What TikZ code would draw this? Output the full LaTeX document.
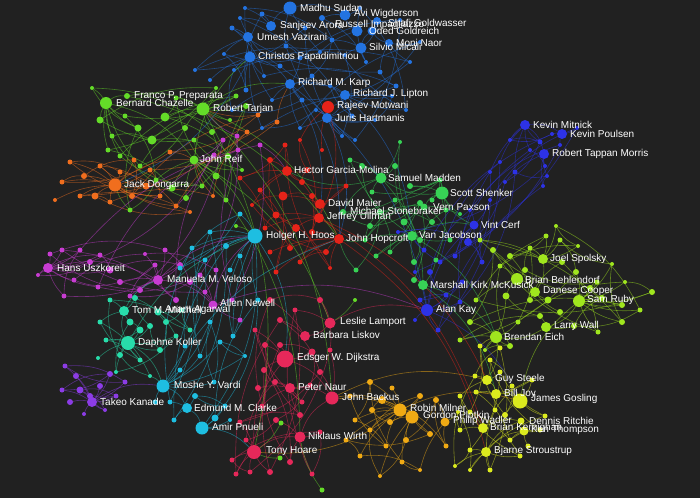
\documentclass[tikz,border=0pt]{standalone}
\usepackage{fontspec}
\setmainfont{Liberation Sans}
\definecolor{bgc}{RGB}{33,33,33}
\definecolor{cblue}{RGB}{35,115,225}
\definecolor{cred}{RGB}{230,35,25}
\definecolor{cgreen}{RGB}{100,220,40}
\definecolor{csys}{RGB}{55,210,85}
\definecolor{corange}{RGB}{240,110,30}
\definecolor{cmag}{RGB}{200,60,210}
\definecolor{cteal}{RGB}{40,220,170}
\definecolor{ccyan}{RGB}{30,190,225}
\definecolor{ccrim}{RGB}{230,40,90}
\definecolor{cgold}{RGB}{240,170,20}
\definecolor{cyel}{RGB}{220,235,30}
\definecolor{clime}{RGB}{160,230,30}
\definecolor{cviolet}{RGB}{45,50,230}
\definecolor{cpurple}{RGB}{140,60,230}
\pgfdeclarelayer{bgl}\pgfdeclarelayer{edges}\pgfdeclarelayer{labels}
\pgfsetlayers{bgl,edges,main,labels}
\tikzset{
  dot/.style={circle,inner sep=0pt,draw=none},
  lbl/.style={anchor=west,inner sep=0pt,text=white,font=\fontsize{10}{12}\selectfont},
  edge/.style={draw=#1,draw opacity=0.5,line width=0.6pt}
}
\newcommand\hubdot[8]{\node[dot,fill=#5,minimum size=#4pt] (#1) at (#2,#3) {};}
\newcommand\hublabel[8]{\node[lbl] (#1t) at (#6,#7) {#8};}
\newcommand\clusterdots[3]{%
  \foreach \x/\y/\s/\h [count=\i] in #3 {%
    \node[dot,fill=#2,minimum size=\s pt] (#1\i) at (\x,\y) {};}}
\newcommand\clusterlinks[3]{%
  \foreach \x/\y/\s/\h [count=\i] in #3 {%
    \draw[edge=#2] (#1\i) to[bend left=12] (\h);}}
\newcommand\webedges[3]{%
  \foreach \i in {1,...,#2}{%
    \pgfmathtruncatemacro\j{mod(\i*5+3,#2)+1}%
    \ifnum\j=\i\else\draw[edge=#3] (#1\i) to[bend right=18] (#1\j);\fi}}
\newcommand\allhubs{%
\hub{sudan}{290}{8}{13}{cblue}{300}{8}{Madhu Sudan}
\hub{wigderson}{345}{15}{11}{cblue}{354}{14}{Avi Wigderson}
\hub{arora}{271}{26}{10}{cblue}{280}{26}{Sanjeev Arora}
\hub{impagliazzo}{357}{31}{11}{cblue}{335}{25}{Russell Impagliazzo}
\hub{goldwasser}{377}{21}{8}{cblue}{388}{23}{Shafi Goldwasser}
\hub{goldreich}{372}{31}{9}{cblue}{369}{31}{Oded Goldreich}
\hub{vazirani}{248}{37}{10}{cblue}{257}{37}{Umesh Vazirani}
\hub{micali}{361}{48}{11}{cblue}{369}{47}{Silvio Micali}
\hub{naor}{389}{43}{8}{cblue}{396}{43}{Moni Naor}
\hub{papadimitriou}{250}{57}{11}{cblue}{258}{57}{Christos Papadimitriou}
\hub{karp}{290}{84}{10}{cblue}{298}{83}{Richard M. Karp}
\hub{lipton}{345}{95}{10}{cblue}{353}{94}{Richard J. Lipton}
\hub{motwani}{328}{107}{12}{cred}{337}{106}{Rajeev Motwani}
\hub{hartmanis}{327}{118}{10}{cblue}{335}{118}{Juris Hartmanis}
\hub{preparata}{127}{96}{6}{cgreen}{134}{96}{Franco P. Preparata}
\hub{chazelle}{106}{103}{12}{cgreen}{116}{103}{Bernard Chazelle}
\hub{tarjan}{203}{109}{13}{cgreen}{213}{109}{Robert Tarjan}
\hub{reif}{194}{160}{9}{cgreen}{200}{159}{John Reif}
\hub{dongarra}{115}{185}{13}{corange}{124}{185}{Jack Dongarra}
\hub{garcia}{287}{171}{10}{cred}{294}{170}{Hector Garcia-Molina}
\hub{maier}{320}{204}{10}{cred}{328}{203}{David Maier}
\hub{ullman}{319}{218}{10}{cred}{327}{217}{Jeffrey Ullman}
\hub{hopcroft}{339}{239}{10}{cred}{346}{239}{John Hopcroft}
\hub{madden}{381}{178}{11}{csys}{388}{178}{Samuel Madden}
\hub{shenker}{442}{193}{13}{csys}{450}{193}{Scott Shenker}
\hub{stonebraker}{343}{212}{6}{csys}{350}{211}{Michael Stonebraker}
\hub{paxson}{424}{207}{7}{csys}{433}{207}{Vern Paxson}
\hub{jacobson}{412}{236}{10}{csys}{419}{235}{Van Jacobson}
\hub{mckusick}{423}{285}{10}{csys}{430}{285}{Marshall Kirk McKusick}
\hub{cerf}{474}{225}{9}{cviolet}{481}{225}{Vint Cerf}
\hub{mitnick}{525}{125}{10}{cviolet}{533}{125}{Kevin Mitnick}
\hub{poulsen}{562}{134}{10}{cviolet}{570}{134}{Kevin Poulsen}
\hub{morris}{544}{154}{10}{cviolet}{552}{154}{Robert Tappan Morris}
\hub{kay}{427}{310}{12}{cviolet}{436}{310}{Alan Kay}
\hub{spolsky}{543}{259}{10}{clime}{550}{259}{Joel Spolsky}
\hub{behlendorf}{517}{279}{12}{clime}{525}{280}{Brian Behlendorf}
\hub{cooper}{535}{292}{10}{clime}{543}{291}{Danese Cooper}
\hub{ruby}{579}{301}{12}{clime}{587}{300}{Sam Ruby}
\hub{wall}{546}{327}{10}{clime}{554}{326}{Larry Wall}
\hub{eich}{496}{337}{12}{clime}{504}{337}{Brendan Eich}
\hub{uszkoreit}{48}{268}{10}{cmag}{57}{268}{Hans Uszkoreit}
\hub{veloso}{158}{280}{10}{cmag}{167}{279}{Manuela M. Veloso}
\hub{newell}{213}{305}{9}{cmag}{220}{303}{Allen Newell}
\hub{mitchell}{124}{311}{10}{cteal}{132}{310}{Tom M. Mitchell}
\hub{agarwal}{158}{312}{7}{cteal}{165}{310}{Anant Agarwal}
\hub{koller}{128}{343}{14}{cteal}{138}{343}{Daphne Koller}
\hub{hoos}{255}{236}{15}{ccyan}{266}{236}{Holger H. Hoos}
\hub{vardi}{163}{386}{13}{ccyan}{174}{385}{Moshe Y. Vardi}
\hub{clarke}{187}{408}{10}{ccyan}{194}{408}{Edmund M. Clarke}
\hub{pnueli}{202}{428}{13}{ccyan}{212}{427}{Amir Pnueli}
\hub{kanade}{92}{402}{10}{cpurple}{100}{402}{Takeo Kanade}
\hub{lamport}{330}{323}{11}{ccrim}{340}{322}{Leslie Lamport}
\hub{liskov}{305}{336}{10}{ccrim}{313}{335}{Barbara Liskov}
\hub{dijkstra}{285}{359}{17}{ccrim}{297}{358}{Edsger W. Dijkstra}
\hub{naur}{290}{388}{10}{ccrim}{298}{387}{Peter Naur}
\hub{backus}{332}{398}{13}{ccrim}{342}{397}{John Backus}
\hub{wirth}{300}{437}{11}{ccrim}{308}{436}{Niklaus Wirth}
\hub{hoare}{254}{452}{14}{ccrim}{266}{451}{Tony Hoare}
\hub{milner}{400}{410}{13}{cgold}{410}{408}{Robin Milner}
\hub{plotkin}{412}{417}{13}{cgold}{423}{415}{Gordon Plotkin}
\hub{wadler}{445}{422}{9}{cgold}{453}{421}{Philip Wadler}
\hub{steele}{487}{380}{10}{cyel}{495}{379}{Guy Steele}
\hub{joy}{496}{394}{10}{cyel}{504}{394}{Bill Joy}
\hub{gosling}{520}{401}{15}{cyel}{531}{399}{James Gosling}
\hub{ritchie}{521}{421}{7}{cyel}{529}{421}{Dennis Ritchie}
\hub{kernighan}{483}{428}{10}{cyel}{490}{428}{Brian Kernighan}
\hub{thompson}{524}{431}{9}{cyel}{531}{430}{Ken Thompson}
\hub{stroustrup}{486}{452}{10}{cyel}{494}{451}{Bjarne Stroustrup}}
\def\listb{232/28/5/vazirani, 240/18/4/arora, 262/14/5/arora, 305/28/5/sudan, 322/18/6/wigderson, 332/40/5/micali, 345/55/4/micali, 366/62/4/micali, 380/72/5/naor, 396/86/5/lipton, 410/62/4/naor, 420/42/4/naor, 300/58/5/karp, 280/66/5/papadimitriou, 264/76/4/papadimitriou, 312/76/5/karp, 302/100/5/karp, 272/100/4/karp, 246/90/5/papadimitriou, 234/70/4/papadimitriou, 224/54/4/vazirani, 316/110/4/hartmanis, 352/116/5/lipton, 342/136/4/hartmanis, 300/128/4/karp, 232/110/4/karp, 262/128/4/papadimitriou, 392/96/4/lipton, 406/110/4/lipton, 286/46/5/sudan, 320/52/4/impagliazzo, 360/8/4/wigderson, 400/20/4/goldwasser, 245/8/4/arora, 330/86/4/lipton, 375/120/4/hartmanis, 355/140/4/hartmanis, 210/80/4/papadimitriou, 195/70/4/vazirani}
\def\listr{270/160/6/garcia, 302/182/6/garcia, 283/196/9/maier, 307/170/6/garcia, 260/190/5/garcia, 276/215/7/ullman, 296/228/8/ullman, 312/232/6/hopcroft, 290/248/6/hopcroft, 270/252/5/hopcroft, 326/252/6/hopcroft, 265/228/5/ullman, 312/196/6/maier, 346/186/5/maier, 300/262/5/hopcroft, 285/145/5/garcia, 276/272/5/hopcroft, 330/268/4/hopcroft, 252/205/4/garcia, 240/178/5/garcia, 322/150/4/motwani, 300/140/4/motwani}
\def\listg{100/120/7/chazelle, 112/136/5/chazelle, 125/116/5/chazelle, 138/128/7/chazelle, 152/140/9/tarjan, 165/117/9/tarjan, 176/98/5/tarjan, 185/128/6/tarjan, 194/140/5/reif, 212/132/6/tarjan, 228/156/6/reif, 216/176/7/reif, 202/186/5/reif, 186/198/6/reif, 172/188/7/reif, 156/180/5/reif, 140/166/5/chazelle, 120/156/5/chazelle, 236/96/5/tarjan, 246/106/6/tarjan, 216/88/4/tarjan, 242/170/4/reif, 226/200/5/reif, 130/210/5/dongarra, 108/150/5/chazelle, 230/120/4/tarjan, 92/88/4/chazelle}
\def\listo{70/162/5/dongarra, 84/176/6/dongarra, 95/196/7/dongarra, 110/202/5/dongarra, 132/196/6/dongarra, 146/186/7/dongarra, 150/170/5/dongarra, 134/160/5/dongarra, 160/196/5/dongarra, 176/206/5/dongarra, 170/152/5/reif, 120/172/5/dongarra, 100/166/5/dongarra, 62/182/5/dongarra, 80/196/5/dongarra, 247/132/5/tarjan, 258/115/5/tarjan, 277/122/5/karp, 190/212/4/dongarra, 55/200/4/dongarra, 213/196/4/reif}
\def\lists{362/166/6/madden, 395/166/6/madden, 410/186/6/shenker, 420/203/6/paxson, 404/222/7/jacobson, 432/222/6/paxson, 446/210/5/shenker, 395/200/5/stonebraker, 380/212/6/stonebraker, 370/226/6/stonebraker, 390/252/5/jacobson, 414/262/6/jacobson, 436/260/5/mckusick, 420/240/6/jacobson, 450/240/5/jacobson, 460/214/4/shenker, 400/142/4/madden, 372/192/5/madden, 440/180/5/shenker, 376/256/5/jacobson, 356/270/5/hopcroft, 350/160/5/madden, 432/200/5/shenker, 365/240/5/hopcroft, 414/280/6/mckusick}
\def\listv{468/242/8/cerf, 455/256/5/cerf, 440/262/5/jacobson, 462/282/5/kay, 446/295/5/kay, 430/272/6/kay, 424/250/5/jacobson, 460/302/5/kay, 398/232/4/jacobson, 415/272/4/kay, 482/262/5/cerf, 470/210/4/cerf, 490/200/4/cerf, 505/182/4/morris, 515/172/5/mitnick, 540/142/5/mitnick, 530/150/4/mitnick, 552/134/4/poulsen, 560/145/4/poulsen, 545/166/4/morris, 547/176/4/morris, 543/186/4/morris, 500/162/4/mitnick, 490/172/4/mitnick, 577/128/4/poulsen, 510/140/4/mitnick, 438/330/5/kay, 415/320/4/kay, 420/300/5/kay}
\def\listl{480/240/5/spolsky, 493/250/6/behlendorf, 500/266/5/behlendorf, 510/256/6/spolsky, 560/240/5/spolsky, 562/262/6/spolsky, 576/272/6/ruby, 590/288/6/ruby, 602/298/6/ruby, 622/305/6/ruby, 640/310/5/ruby, 652/292/6/ruby, 622/322/6/ruby, 598/332/5/ruby, 574/326/6/wall, 560/312/6/cooper, 540/316/6/wall, 518/322/5/eich, 510/346/6/eich, 470/322/6/eich, 460/340/5/eich, 476/300/5/behlendorf, 506/296/7/behlendorf, 546/236/5/spolsky, 556/226/4/spolsky, 530/248/5/spolsky, 578/246/4/spolsky, 597/282/5/ruby, 612/264/4/ruby, 625/282/4/ruby, 485/350/4/eich, 525/270/6/behlendorf, 548/300/7/cooper, 530/300/6/cooper}
\def\listm{50/254/5/uszkoreit, 62/250/5/uszkoreit, 80/250/5/uszkoreit, 90/262/6/uszkoreit, 100/255/5/uszkoreit, 110/270/7/uszkoreit, 120/282/6/veloso, 98/287/5/uszkoreit, 140/290/6/veloso, 155/265/5/veloso, 165/250/5/veloso, 180/265/6/veloso, 190/282/6/newell, 205/292/5/newell, 200/275/5/newell, 216/270/5/newell, 176/300/6/veloso, 74/280/5/uszkoreit, 64/296/5/uszkoreit, 223/140/5/reif, 237/136/5/tarjan, 238/150/5/reif, 260/145/5/garcia, 214/155/5/reif, 130/296/5/veloso, 145/254/4/veloso, 232/300/5/newell, 240/320/5/newell, 38/275/4/uszkoreit}
\def\listt{110/300/5/mitchell, 130/322/7/mitchell, 140/330/7/koller, 150/326/6/koller, 166/322/6/agarwal, 176/336/5/koller, 160/350/6/koller, 140/360/5/koller, 120/355/6/koller, 106/340/5/koller, 100/322/5/mitchell, 182/310/5/agarwal, 190/330/5/agarwal, 116/372/4/koller, 150/376/4/vardi, 98/358/4/koller, 135/298/6/mitchell}
\def\listc{210/232/5/hoos, 226/246/6/hoos, 240/256/5/hoos, 240/214/5/hoos, 230/270/5/hoos, 205/260/5/hoos, 210/322/5/vardi, 220/342/5/vardi, 200/356/5/vardi, 185/346/5/vardi, 180/370/5/vardi, 195/396/6/clarke, 215/418/7/pnueli, 174/420/5/clarke, 214/382/5/vardi, 225/406/5/pnueli, 155/402/5/vardi, 170/402/5/clarke, 233/336/5/hoos, 245/356/4/vardi, 258/300/5/hoos, 192/248/5/hoos, 230/420/4/pnueli, 180/268/5/hoos}
\def\listk{270/300/6/liskov, 280/320/6/liskov, 295/310/5/lamport, 312/352/7/dijkstra, 320/372/6/backus, 302/402/5/naur, 275/382/6/naur, 264/370/6/dijkstra, 262/406/5/naur, 276/420/6/wirth, 240/422/5/hoare, 246/440/5/hoare, 232/460/5/hoare, 236/474/5/hoare, 250/472/5/hoare, 270/472/6/hoare, 290/462/6/wirth, 320/432/5/wirth, 312/474/5/wirth, 265/345/6/dijkstra, 320/300/6/lamport, 255/330/5/dijkstra, 300/415/6/naur, 280/345/6/dijkstra, 330/350/5/backus, 258/388/6/naur, 310/385/5/naur}
\def\lista{350/396/5/backus, 370/382/6/milner, 382/400/8/milner, 390/422/6/plotkin, 420/396/6/milner, 436/400/6/wadler, 430/434/6/plotkin, 406/440/6/plotkin, 386/446/5/milner, 370/430/5/milner, 355/420/5/milner, 346/440/5/milner, 360/456/5/milner, 402/462/5/plotkin, 446/446/5/wadler, 380/476/4/plotkin, 420/470/4/wadler, 392/388/5/milner, 372/410/6/milner}
\def\liste{460/396/5/steele, 475/376/5/steele, 470/412/5/kernighan, 460/430/5/kernighan, 470/450/5/stroustrup, 500/372/5/steele, 505/415/6/gosling, 510/440/5/thompson, 520/456/5/stroustrup, 540/430/5/thompson, 545/416/5/gosling, 490/470/5/stroustrup, 470/470/4/stroustrup, 455/466/4/stroustrup, 490/360/5/steele, 512/386/5/gosling, 532/380/5/gosling, 500/348/5/eich, 480/346/5/eich, 495/410/5/joy, 476/392/5/joy, 528/446/5/thompson, 458/412/4/wadler}
\def\listp{65/366/5/kanade, 76/376/6/kanade, 80/390/7/kanade, 90/396/6/kanade, 100/386/6/kanade, 110/374/6/kanade, 116/396/5/kanade, 70/402/6/kanade, 125/382/5/kanade, 62/390/5/kanade, 84/414/4/kanade, 105/410/4/kanade}
\def\listx{281/423/5/hoare, 280/458/5/hoare, 322/490/5/wirth, 236/226/4/hoos, 355/300/4/lamport}
\begin{document}
\begin{tikzpicture}[x=1pt,y=-1pt]
\begin{pgfonlayer}{bgl}\fill[bgc] (0,0) rectangle (700,498);\end{pgfonlayer}
\useasboundingbox (0,0) rectangle (700,498);
% hub dots
\let\hub\hubdot \allhubs
% small dots
\clusterdots{b}{cblue}{\listb}
\clusterdots{r}{cred}{\listr}
\clusterdots{g}{cgreen}{\listg}
\clusterdots{o}{corange}{\listo}
\clusterdots{s}{csys}{\lists}
\clusterdots{v}{cviolet}{\listv}
\clusterdots{l}{clime}{\listl}
\clusterdots{m}{cmag}{\listm}
\clusterdots{t}{cteal}{\listt}
\clusterdots{c}{ccyan}{\listc}
\clusterdots{k}{ccrim}{\listk}
\clusterdots{a}{cgold}{\lista}
\clusterdots{e}{cyel}{\liste}
\clusterdots{p}{cpurple}{\listp}
\clusterdots{x}{cgreen}{\listx}
% all connectors on one layer
\begin{pgfonlayer}{edges}
\clusterlinks{b}{cblue}{\listb}\webedges{b}{39}{cblue}
\clusterlinks{r}{cred}{\listr}\webedges{r}{22}{cred}
\clusterlinks{g}{cgreen}{\listg}\webedges{g}{27}{cgreen}
\clusterlinks{o}{corange}{\listo}\webedges{o}{21}{corange}
\clusterlinks{s}{csys}{\lists}\webedges{s}{25}{csys}
\clusterlinks{v}{cviolet}{\listv}\webedges{v}{29}{cviolet}
\clusterlinks{l}{clime}{\listl}\webedges{l}{34}{clime}
\clusterlinks{m}{cmag}{\listm}\webedges{m}{29}{cmag}
\clusterlinks{t}{cteal}{\listt}\webedges{t}{17}{cteal}
\clusterlinks{c}{ccyan}{\listc}\webedges{c}{24}{ccyan}
\clusterlinks{k}{ccrim}{\listk}\webedges{k}{27}{ccrim}
\clusterlinks{a}{cgold}{\lista}\webedges{a}{19}{cgold}
\clusterlinks{e}{cyel}{\liste}\webedges{e}{23}{cyel}
\clusterlinks{p}{cpurple}{\listp}\webedges{p}{12}{cpurple}
\clusterlinks{x}{cgreen}{\listx}
\foreach \a/\b/\c in {tarjan/hopcroft/cgreen, reif/hoos/cgreen, karp/hopcroft/cblue, papadimitriou/dongarra/cblue, karp/ullman/cblue, lipton/motwani/cblue, hoare/dijkstra/ccrim, dijkstra/backus/ccrim, backus/milner/cgold, milner/hoare/cgold, kay/gosling/cviolet, ullman/kernighan/cred, hopcroft/stroustrup/cred, mckusick/joy/csys, cerf/shenker/csys, jacobson/cerf/csys, paxson/shenker/csys, lamport/liskov/ccrim, veloso/newell/cmag, newell/hoos/cmag, tarjan/karp/cgreen, chazelle/preparata/cgreen, preparata/tarjan/cgreen, reif/papadimitriou/cgreen, vardi/clarke/ccyan, clarke/pnueli/ccyan, pnueli/hoare/ccyan, hoare/wirth/ccrim, naur/backus/ccrim, wirth/backus/ccrim, steele/joy/cyel, joy/gosling/cyel, ritchie/thompson/cyel, kernighan/ritchie/cyel, stroustrup/thompson/cyel, eich/steele/clime, wall/eich/clime, behlendorf/cooper/clime, spolsky/cooper/clime, ruby/wall/clime, mitnick/poulsen/cviolet, mitnick/morris/cviolet, kay/cerf/cviolet, koller/mitchell/cteal, mitchell/veloso/cteal, koller/vardi/cteal, kanade/vardi/cpurple, uszkoreit/veloso/cmag, dongarra/reif/corange, madden/garcia/csys, stonebraker/madden/csys, maier/ullman/cred, ullman/hopcroft/cred, garcia/ullman/cred, motwani/ullman/cred, hartmanis/hopcroft/cblue, sudan/wigderson/cblue, arora/sudan/cblue, goldwasser/micali/cblue, micali/goldreich/cblue, naor/goldreich/cblue, impagliazzo/wigderson/cblue, vazirani/papadimitriou/cblue, papadimitriou/karp/cblue, karp/lipton/cblue, lipton/hartmanis/cblue, reif/wirth/cgreen, tarjan/hoare/cgreen, preparata/hopcroft/cgreen, reif/lamport/cgreen, tarjan/backus/cgreen, karp/kay/cblue, lipton/jacobson/cblue, ullman/steele/cred, madden/mckusick/csys, jacobson/eich/csys, koller/hoos/cteal, newell/kay/cmag, veloso/hoos/cmag, hoos/pnueli/ccyan, vardi/hopcroft/ccyan, lamport/kay/ccrim, milner/gosling/cgold, backus/steele/cgold, stroustrup/ritchie/cyel, gosling/ruby/clime, chazelle/reif/cgreen, mckusick/eich/csys, hoos/dijkstra/ccyan, shenker/madden/csys}
  {\draw[edge=\c] (\a) to[bend left=20] (\b);}
\end{pgfonlayer}
% labels on top
\begin{pgfonlayer}{labels}
\let\hub\hublabel \allhubs
\end{pgfonlayer}
\end{tikzpicture}
\end{document}
